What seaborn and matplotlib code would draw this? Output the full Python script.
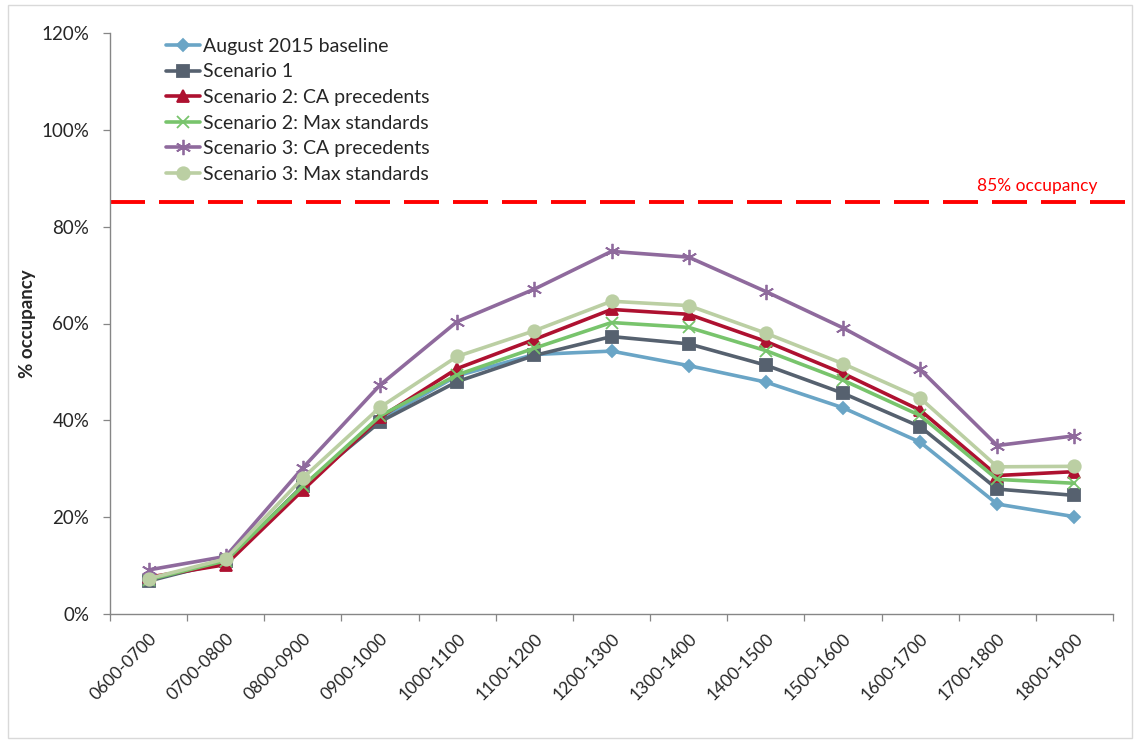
import matplotlib
matplotlib.use("Agg")
import matplotlib.pyplot as plt
from matplotlib.patches import Rectangle
from matplotlib.ticker import FixedLocator, FuncFormatter
import seaborn as sns

# Hourly time bands
periods = ["0600-0700", "0700-0800", "0800-0900", "0900-1000", "1000-1100",
           "1100-1200", "1200-1300", "1300-1400", "1400-1500", "1500-1600",
           "1600-1700", "1700-1800", "1800-1900"]

# Occupancy (%) for each scenario
baseline_2015 = [7.2, 10.5, 26.2, 40.2, 49.2, 53.6, 54.3, 51.3, 47.9, 42.6, 35.5, 22.7, 20.1]
scenario_1 = [6.8, 10.9, 26.5, 39.7, 48.0, 53.4, 57.3, 55.8, 51.4, 45.6, 38.7, 25.8, 24.5]
scenario_2_ca = [7.6, 10.2, 25.6, 40.6, 50.7, 56.7, 62.9, 61.9, 56.3, 49.7, 42.1, 28.6, 29.4]
scenario_2_max = [7.1, 11.0, 26.4, 40.9, 49.4, 54.9, 60.2, 59.2, 54.4, 48.3, 41.0, 27.8, 27.0]
scenario_3_ca = [9.1, 11.9, 30.2, 47.3, 60.4, 67.1, 74.9, 73.7, 66.6, 59.1, 50.5, 34.8, 36.8]
scenario_3_max = [7.3, 11.4, 28.1, 42.7, 53.2, 58.5, 64.6, 63.7, 58.0, 51.7, 44.6, 30.4, 30.5]

series_names = ["August 2015 baseline", "Scenario 1", "Scenario 2: CA precedents",
                "Scenario 2: Max standards", "Scenario 3: CA precedents",
                "Scenario 3: Max standards"]
series_values = [baseline_2015, scenario_1, scenario_2_ca, scenario_2_max,
                 scenario_3_ca, scenario_3_max]

threshold = 85
threshold_label = "85% occupancy"
y_ticks = [0, 20, 40, 60, 80, 100, 120]

colors = ["#6AA5C6", "#56616F", "#AE1130", "#78C46C", "#8F6A9D", "#BBCFA3"]
markers = ["D", "s", "^", "x", (6, 2, 0), "o"]
msizes = [6.5, 9, 8.5, 9, 11, 9]

sns.set_style("white")
plt.rcParams["font.family"] = ["Lato", "DejaVu Sans"]

fig = plt.figure(figsize=(11.36, 7.43), dpi=100)
ax = fig.add_axes([110 / 1136, 1 - 614 / 743, 1003 / 1136, 581 / 743])

for name, vals, c, m, ms in zip(series_names, series_values, colors, markers, msizes):
    sns.lineplot(x=list(range(len(periods))), y=vals, ax=ax, color=c, marker=m,
                 markersize=ms, markeredgecolor=c, markeredgewidth=1.3,
                 linewidth=2.6, label=name, sort=False)

ax.axhline(threshold, xmin=0, xmax=1.022, color="#FF0000", linewidth=2.8,
           dashes=(9, 3.6), clip_on=False, zorder=1)
ax.text(11.52, threshold + 3.4, threshold_label, color="#FF0000", fontsize=12.5,
        ha="center", va="center")

ax.set_xlim(-0.5, len(periods) - 0.5)
ax.set_ylim(0, 120)
ax.yaxis.set_major_locator(FixedLocator(y_ticks))
ax.yaxis.set_major_formatter(FuncFormatter(lambda v, p: f"{v:.0f}%"))
ax.tick_params(axis="y", labelsize=13.5, length=5, width=0.9, color="#868686",
               direction="out", left=True, pad=10)

ax.set_xticks(range(len(periods)))
ax.set_xticklabels(periods, rotation=45, ha="right", rotation_mode="anchor", fontsize=12.5)
ax.set_xticks([i - 0.5 for i in range(len(periods) + 1)], minor=True)
ax.tick_params(axis="x", which="major", length=0, pad=12)
ax.tick_params(axis="x", which="minor", length=5, width=0.9, color="#868686",
               direction="out", bottom=True)

for side in ["top", "right"]:
    ax.spines[side].set_visible(False)
for side in ["left", "bottom"]:
    ax.spines[side].set_color("#868686")
    ax.spines[side].set_linewidth(1.0)

ax.set_ylabel("% occupancy", fontsize=13.5, fontweight="bold", labelpad=4)
ax.set_xlabel("")

leg = ax.legend(loc="upper left", bbox_to_anchor=(0.048, 1.005), frameon=False,
                fontsize=14, handlelength=1.75, handletextpad=0.15,
                labelspacing=0.44, borderaxespad=0)

fig.patches.append(Rectangle((8 / 1136, 5 / 743), 1124 / 1136, 733 / 743,
                             transform=fig.transFigure, fill=False,
                             edgecolor="#D9D9D9", linewidth=1.0))

fig.savefig("out.png", dpi=100)
